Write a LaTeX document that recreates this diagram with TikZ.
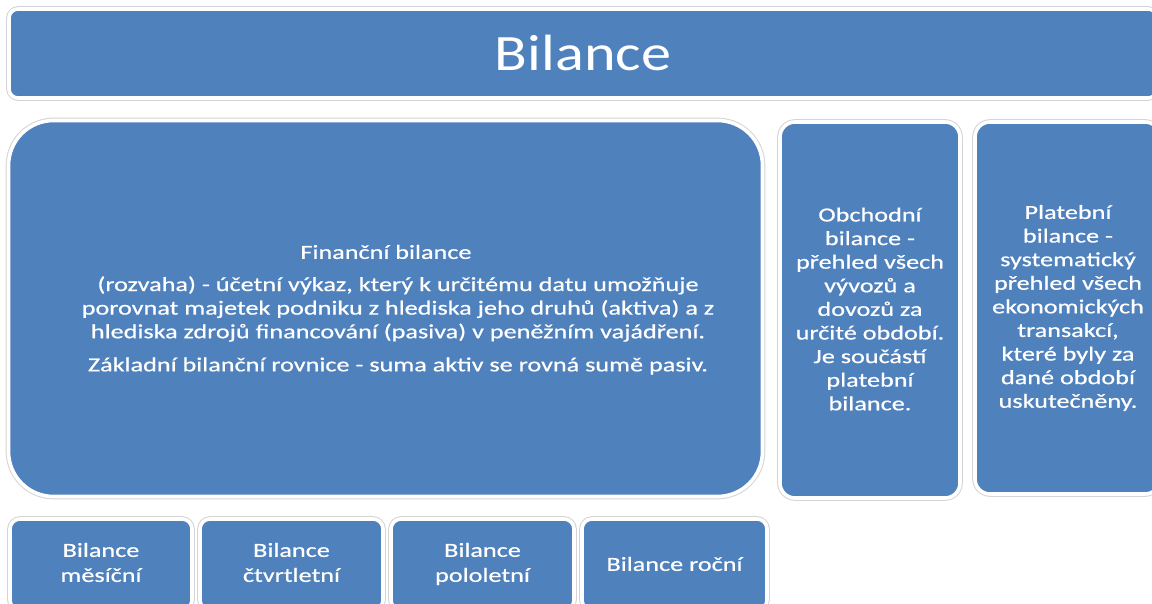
\documentclass[tikz,border=0pt]{standalone}
\usepackage{fontspec}
\setmainfont{Carlito}
\newfontfamily\wfont[FakeStretch=1.31,FakeBold=0.6]{Carlito}
\newfontfamily\tfont[FakeStretch=1.18]{Carlito}
\definecolor{bfill}{HTML}{4F81BD}
\definecolor{bedge}{HTML}{D4D4D4}
\tikzset{
  box/.style={rectangle, fill=bfill, draw=white, line width=3.6pt,
    preaction={draw=bedge, line width=5.6pt}, inner sep=0pt},
  txt/.style={text=white, align=center, inner sep=0pt},
  mid/.style={txt, font=\wfont\fontsize{20}{23.6}\selectfont},
  low/.style={txt, font=\wfont\fontsize{20}{25}\selectfont},
}
\begin{document}
\begin{tikzpicture}[x=1pt,y=-1pt]
\useasboundingbox (0,0) rectangle (1152,604);
\clip (0,0) rectangle (1152,604);
\fill[white] (0,0) rectangle (1152,604);
% title
\node[box, rounded corners=9pt, minimum width=1148pt, minimum height=89pt] (title) at (583,53.5) {};
\node[txt, font=\tfont\fontsize{51}{60}\selectfont] (titletext) at (583,53) {Bilance};
% financial balance
\node[box, rounded corners=45pt, minimum width=754pt, minimum height=376pt] (fin) at (385.5,308.5) {};
\node[mid] (finhead) at (386,252) {Finanční bilance};
\node[mid] (finbody) at (398,309) {(rozvaha) - účetní výkaz, který k určitému datu umožňuje\\porovnat majetek podniku z hlediska jeho druhů (aktiva) a z\\hlediska zdrojů financování (pasiva) v peněžním vajádření.};
\node[mid] (finrule) at (398,366) {Základní bilanční rovnice - suma aktiv se rovná sumě pasiv.};
% trade balance
\node[box, rounded corners=15pt, minimum width=180pt, minimum height=376pt] (obch) at (870,310) {};
\node[mid] (obchtext) at (870,309) {Obchodní\\bilance -\\přehled všech\\vývozů a\\dovozů za\\určité období.\\Je součástí\\platební\\bilance.};
% payment balance
\node[box, rounded corners=15pt, minimum width=185pt, minimum height=372pt] (plat) at (1067.5,308) {};
\node[mid] (plattext) at (1068,308) {Platební\\bilance -\\systematický\\přehled všech\\ekonomických\\transakcí,\\které byly za\\dané období\\uskutečněny.};
% bottom boxes
\node[box, rounded corners=10pt, minimum width=182pt, minimum height=91pt] (b1) at (101,564.5) {};
\node[low] (b1text) at (101,562.5) {Bilance\\měsíční};
\node[box, rounded corners=10pt, minimum width=183pt, minimum height=91pt] (b2) at (291.5,564.5) {};
\node[low] (b2text) at (291.5,562.5) {Bilance\\čtvrtletní};
\node[box, rounded corners=10pt, minimum width=183pt, minimum height=91pt] (b3) at (482.5,564.5) {};
\node[low] (b3text) at (482.5,564) {Bilance\\pololetní};
\node[box, rounded corners=10pt, minimum width=185pt, minimum height=91pt] (b4) at (674.5,564.5) {};
\node[low] (b4text) at (674.5,564) {Bilance roční};
\end{tikzpicture}
\end{document}
